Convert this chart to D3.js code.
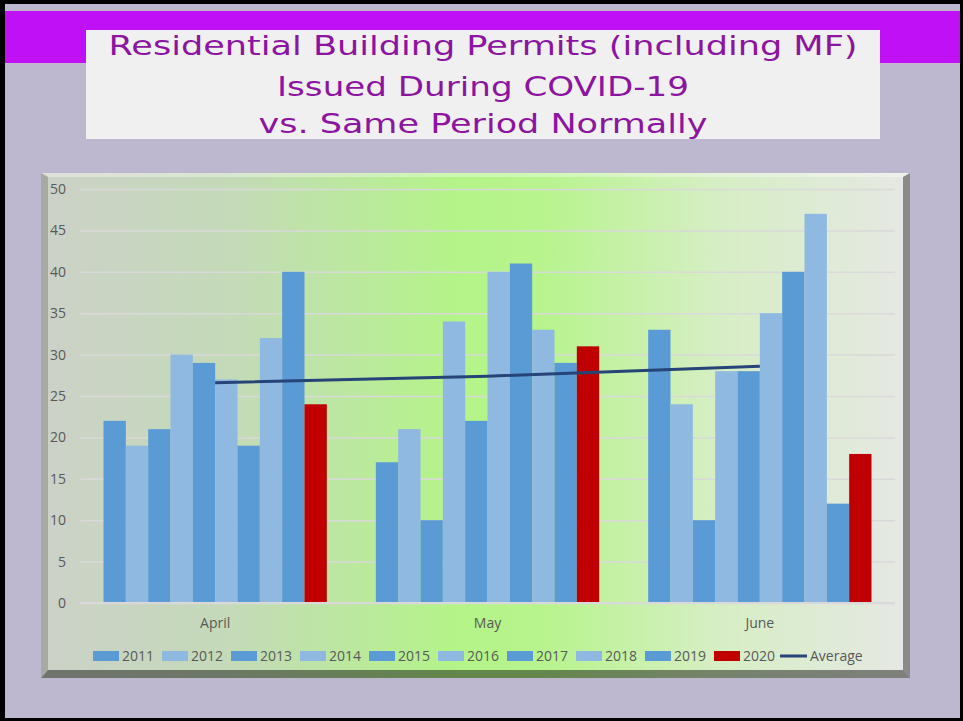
<!DOCTYPE html>
<html>
<head>
<meta charset="utf-8">
<script src="https://cdn.jsdelivr.net/npm/d3@7"></script>
<style>
  html, body { margin: 0; padding: 0; background: #bdb8d0; }
  svg { display: block; }
</style>
</head>
<body>
<div id="chart"></div>
<script>
// valores
var months = ['April', 'May', 'June'];
var years = ['2011', '2012', '2013', '2014', '2015', '2016', '2017', '2018', '2019', '2020'];
var april = [22, 19, 21, 30, 29, 27, 19, 32, 40, 24];
var may   = [17, 21, 10, 34, 22, 40, 41, 33, 29, 31];
var june  = [33, 24, 10, 28, 28, 35, 40, 47, 12, 18];
var average = [26.6, 27.4, 28.6];
var yTicks = [0, 5, 10, 15, 20, 25, 30, 35, 40, 45, 50];
var titleLines = ['Residential Building Permits (including MF)',
                  'Issued During COVID-19',
                  'vs. Same Period Normally'];

var WIDTH = 963, HEIGHT = 721;
var DARK = '#5b9bd5', LIGHT = '#8fb9e1', RED = '#c00000', NAVY = '#264478';
var yearColors = years.map((y, i) => i === years.length - 1 ? RED : (i % 2 === 0 ? DARK : LIGHT));

var svg = d3.select('#chart').append('svg')
    .attr('width', WIDTH).attr('height', HEIGHT);

// fondo y marco de la diapositiva
svg.append('rect').attr('width', WIDTH).attr('height', HEIGHT).attr('fill', '#bdb8d0');
svg.append('rect').attr('x', 5).attr('y', 11).attr('width', 955).attr('height', 52).attr('fill', '#c010f6');
svg.append('rect').attr('x', 0).attr('y', 0).attr('width', 5).attr('height', HEIGHT).attr('fill', '#000');
svg.append('rect').attr('x', 0).attr('y', 0).attr('width', WIDTH).attr('height', 4).attr('fill', '#000');
svg.append('rect').attr('x', 960).attr('y', 0).attr('width', 3).attr('height', HEIGHT).attr('fill', '#000');
svg.append('rect').attr('x', 0).attr('y', 718).attr('width', WIDTH).attr('height', 3).attr('fill', '#000');

// título
svg.append('rect').attr('x', 86).attr('y', 30).attr('width', 794).attr('height', 109).attr('fill', '#f0f0f0');
var titleBase = [55, 96, 133];
var titleLen = [749, 412, 449];
svg.selectAll('text.title').data(titleLines).enter().append('text')
    .attr('class', 'title')
    .attr('x', 483).attr('y', (d, i) => titleBase[i])
    .attr('text-anchor', 'middle')
    .attr('textLength', (d, i) => titleLen[i])
    .attr('lengthAdjust', 'spacingAndGlyphs')
    .style('font-family', '"DejaVu Sans", sans-serif')
    .style('font-size', '27px')
    .style('fill', '#8c14a0')
    .text(d => d);

// panel del gráfico con degradado
var defs = svg.append('defs');
var grad = defs.append('linearGradient').attr('id', 'bg').attr('x1', 0).attr('x2', 1).attr('y1', 0).attr('y2', 0);
[[0, '#ccd1c8'], [0.22, '#c4dab8'], [0.48, '#b4f488'], [0.58, '#b8f48e'], [0.78, '#d6eec4'], [1, '#e6e8e4']]
  .forEach(s => grad.append('stop').attr('offset', s[0]).attr('stop-color', s[1]));

svg.append('rect').attr('x', 41).attr('y', 173).attr('width', 869).attr('height', 505).attr('fill', 'url(#bg)');
svg.append('polygon').attr('points', '41,173 910,173 903,177 48,177').attr('fill', '#fff').attr('opacity', 0.35);
svg.append('polygon').attr('points', '41,173 48,177 48,670 41,678').attr('fill', '#a7a9a3');
svg.append('polygon').attr('points', '910,173 910,678 903,670 903,177').attr('fill', '#8a8a88');
svg.append('polygon').attr('points', '41,678 910,678 903,670 48,670').attr('fill', '#000').attr('opacity', 0.45);

// escalas
var x0 = d3.scaleBand().domain(months).range([79, 896]);
var gap = x0.bandwidth() * 0.09;
var x1 = d3.scaleBand().domain(years).range([gap, x0.bandwidth() - gap]);
var y = d3.scaleLinear().domain([0, 50]).range([603, 189]);

var g = svg.append('g');
var yAxis = d3.axisLeft(y).tickValues(yTicks).tickSize(-815).tickPadding(14);
var ya = g.append('g').attr('transform', 'translate(80,0)').call(yAxis);
ya.select('.domain').remove();
ya.selectAll('.tick line').attr('stroke', '#d9d9d9').attr('stroke-width', 1.5);
ya.selectAll('.tick text')
    .style('font-family', '"Open Sans", sans-serif').style('font-size', '14px').style('fill', '#595959');

// barras
var series = [april, may, june];
var groups = g.selectAll('g.month').data(months).enter().append('g')
    .attr('class', 'month')
    .attr('transform', d => 'translate(' + x0(d) + ',0)');
groups.selectAll('rect').data((d, i) => series[i].map((v, j) => ({year: years[j], value: v, color: yearColors[j]})))
  .enter().append('rect')
    .attr('x', d => x1(d.year))
    .attr('y', d => y(d.value))
    .attr('width', x1.bandwidth())
    .attr('height', d => y(0) - y(d.value))
    .attr('fill', d => d.color);

// eje x
g.append('line').attr('x1', 80).attr('x2', 895).attr('y1', y(0)).attr('y2', y(0))
    .attr('stroke', '#d9d9d9').attr('stroke-width', 2);
var xa = g.append('g').attr('transform', 'translate(0,' + y(0) + ')')
    .call(d3.axisBottom(x0).tickSize(0).tickPadding(15));
xa.select('.domain').remove();
xa.selectAll('text').style('font-family', '"Open Sans", sans-serif').style('font-size', '14px').style('fill', '#595959');

// línea de promedio
var line = d3.line().x((d, i) => x0(months[i]) + x0.bandwidth() / 2).y(d => y(d));
g.append('path').datum(average).attr('d', line)
    .attr('fill', 'none').attr('stroke', NAVY).attr('stroke-width', 3);

// leyenda
var keys = years.concat(['Average']);
var lx = d3.scaleBand().domain(keys).range([93, 93 + 69 * keys.length]);
var leg = g.selectAll('g.leg').data(keys).enter().append('g')
    .attr('class', 'leg')
    .attr('transform', d => 'translate(' + lx(d) + ',656)');
leg.filter(d => d !== 'Average').append('rect')
    .attr('x', 0).attr('y', -5).attr('width', 26).attr('height', 10)
    .attr('fill', (d, i) => yearColors[i]);
leg.filter(d => d === 'Average').append('line')
    .attr('x1', -3).attr('x2', 24).attr('y1', 0).attr('y2', 0)
    .attr('stroke', NAVY).attr('stroke-width', 3);
leg.append('text')
    .attr('x', d => d === 'Average' ? 27 : 29).attr('y', 5)
    .style('font-family', '"Open Sans", sans-serif').style('font-size', '14px').style('fill', '#595959')
    .text(d => d);
</script>
</body>
</html>
